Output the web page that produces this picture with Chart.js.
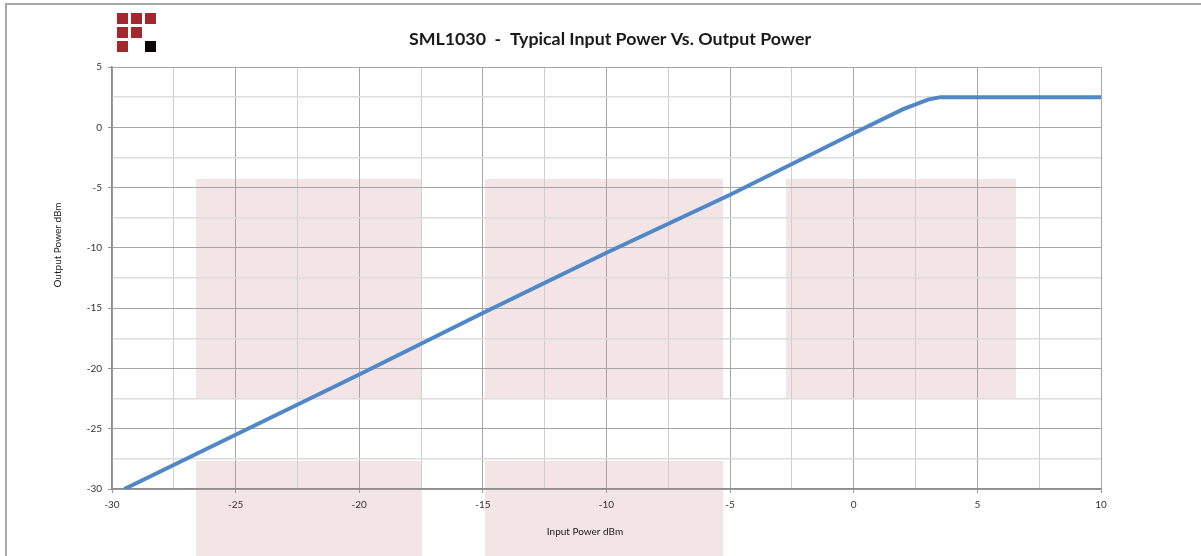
<!DOCTYPE html>
<html lang="en">
<head>
    <meta charset="UTF-8">
    <title>SML1030 - Typical Input Power Vs. Output Power</title>
    <script src="https://cdn.jsdelivr.net/npm/chart.js"></script>
    <style>
        body { margin: 0; background: #fff; }
        #wrap { position: relative; width: 1201px; height: 556px; overflow: hidden; }
        #frame {
            position: absolute; left: 5px; top: 3px; right: -10px; bottom: -10px;
            border-left: 2px solid #a8a8a8; border-top: 2px solid #a8a8a8;
        }
        .sq { position: absolute; width: 11px; height: 11px; background: #a3272c; }
        .sq.blk { background: #0b0203; }
        canvas { position: absolute; left: 0; top: 0; }
    </style>
</head>
<body>
<div id="wrap">
    <div id="frame"></div>
    <!-- logo -->
    <div class="sq" style="left:117px;top:13px"></div>
    <div class="sq" style="left:131px;top:13px"></div>
    <div class="sq" style="left:145px;top:13px"></div>
    <div class="sq" style="left:117px;top:27px"></div>
    <div class="sq" style="left:131px;top:27px"></div>
    <div class="sq" style="left:117px;top:41px"></div>
    <div class="sq blk" style="left:145px;top:41px"></div>
    <canvas id="chart" width="1201" height="556"></canvas>
</div>

<script>
    // chart data
    const inputPower  = [-29.5, -25, -20, -15, -10, -5, 0, 2, 3, 3.5, 10];
    const outputPower = [-30, -25.5, -20.5, -15.4, -10.4, -5.6, -0.5, 1.5, 2.3, 2.5, 2.5];
    const xTicks = [-30, -25, -20, -15, -10, -5, 0, 5, 10];
    const yTicks = [5, 0, -5, -10, -15, -20, -25, -30];

    const chartTitle = "SML1030  -  Typical Input Power Vs. Output Power";
    const xTitle = "Input Power dBm";
    const yTitle = "Output Power dBm";

    const font = "Lato, 'Open Sans', sans-serif";

    // faint pink blocks sitting behind the plot (watermark)
    const bgBlocks = [
        [196, 179, 226, 220], [485, 179, 238, 220], [786, 179, 230, 220],
        [196, 461, 226, 100], [485, 461, 238, 100]
    ];

    const backdrop = {
        id: "backdrop",
        beforeDraw(chart) {
            const ctx = chart.ctx;
            ctx.save();
            ctx.fillStyle = "#f3e5e5";
            bgBlocks.forEach(b => ctx.fillRect(b[0], b[1], b[2], b[3]));
            ctx.restore();
        },
        afterDraw(chart) {
            const ctx = chart.ctx;
            ctx.save();
            ctx.fillStyle = "#1a1a1a";
            ctx.textAlign = "center";
            ctx.textBaseline = "middle";
            ctx.font = "bold 17.8px " + font;
            ctx.fillText(chartTitle, 610, 39);
            ctx.font = "10px " + font;
            ctx.fillText(xTitle, 585, 532);
            ctx.translate(58, 245);
            ctx.rotate(-Math.PI / 2);
            ctx.fillText(yTitle, 0, 0);
            ctx.restore();
        }
    };

    const isMajor = v => Math.abs(v % 5) < 1e-6;

    new Chart(document.getElementById("chart"), {
        type: "scatter",
        data: {
            datasets: [{
                data: inputPower.map((x, i) => ({ x: x, y: outputPower[i] })),
                showLine: true,
                borderColor: "#5087c7",
                borderWidth: 4,
                pointRadius: 0,
                tension: 0
            }]
        },
        options: {
            responsive: false,
            animation: false,
            layout: { padding: { left: 0, right: 100, top: 67, bottom: 0 } },
            plugins: {
                legend: { display: false },
                tooltip: { enabled: false },
                title: { display: false }
            },
            scales: {
                x: {
                    type: "linear",
                    min: -30, max: 10,
                    ticks: {
                        stepSize: 2.5,
                        autoSkip: false,
                        maxRotation: 0,
                        padding: 6,
                        color: "#333",
                        font: { family: font, size: 10 },
                        callback: v => xTicks.includes(v) ? v : ""
                    },
                    grid: {
                        color: c => isMajor(c.tick.value) ? "#a6a6a6" : "#cfcfcf",
                        tickColor: c => isMajor(c.tick.value) ? "#999" : "rgba(0,0,0,0)",
                        tickLength: 4,
                        lineWidth: 1
                    },
                    border: { color: "#8c8c8c", width: 1.5 },
                    afterFit: s => { s.height = 67; }
                },
                y: {
                    min: -30, max: 5,
                    ticks: {
                        stepSize: 2.5,
                        autoSkip: false,
                        padding: 6,
                        color: "#333",
                        font: { family: font, size: 10 },
                        callback: v => yTicks.includes(v) ? v : ""
                    },
                    grid: {
                        color: c => isMajor(c.tick.value) ? "#a6a6a6" : "#dcdcdc",
                        lineWidth: c => isMajor(c.tick.value) ? 1 : 1.5,
                        tickColor: c => isMajor(c.tick.value) ? "#999" : "rgba(0,0,0,0)",
                        tickLength: 4
                    },
                    border: { color: "#8c8c8c", width: 1.5 },
                    afterFit: s => { s.width = 112; }
                }
            }
        },
        plugins: [backdrop]
    });
</script>
</body>
</html>
